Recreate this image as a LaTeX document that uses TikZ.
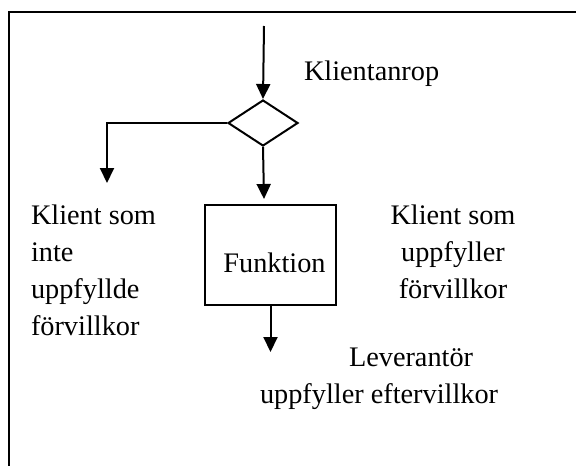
\documentclass[tikz,border=0pt]{standalone}
\usepackage{fontspec}
\setmainfont{Liberation Serif}
\usetikzlibrary{arrows.meta,shapes.geometric}
\begin{document}
\begin{tikzpicture}[x=1pt,y=-1pt,
  line width=2pt,
  arr/.style={-{Triangle[width=14pt,length=15pt]}},
  lbl/.style={inner sep=0pt,font=\fontsize{28.3}{37}\selectfont},
  decision/.style={draw,diamond,minimum width=70pt,minimum height=46pt,inner sep=0pt},
  procbox/.style={draw,rectangle,minimum width=131pt,minimum height=100pt,inner sep=0pt,
    font=\fontsize{28.3}{37}\selectfont,text height=34pt,text depth=0pt}]
\useasboundingbox (0,0) rectangle (576,466);
% frame
\draw (9,470) -- (9,12) -- (580,12);
% nodes
\coordinate (top) at (264,26);
\node[decision] (d) at (263,123) {};
\node[procbox] (f) at (270.5,255) {\hspace*{8pt}Funktion};
\coordinate (L) at (107,183);
\coordinate (B) at (264,199);
\coordinate (E) at (270.5,352);
% connectors
\draw[arr] (top) -- (d.north);
\draw[arr] (d.west) -| (L);
\draw[arr] (d.south) -- (B);
\draw[arr] (f.south) -- (E);
% labels
\node[lbl,anchor=base west] (t1) at (303,80) {Klientanrop};
\node[lbl,anchor=base west,align=left] (t2) at (30,335) {Klient som\\inte\\uppfyllde\\förvillkor};
\node[lbl,anchor=base,align=center] (t3) at (453,298) {Klient som\\uppfyller\\förvillkor};
\node[lbl,anchor=base west,align=left] (t4) at (259,403) {\hspace*{89pt}Leverantör\\uppfyller eftervillkor};
\end{tikzpicture}
\end{document}
